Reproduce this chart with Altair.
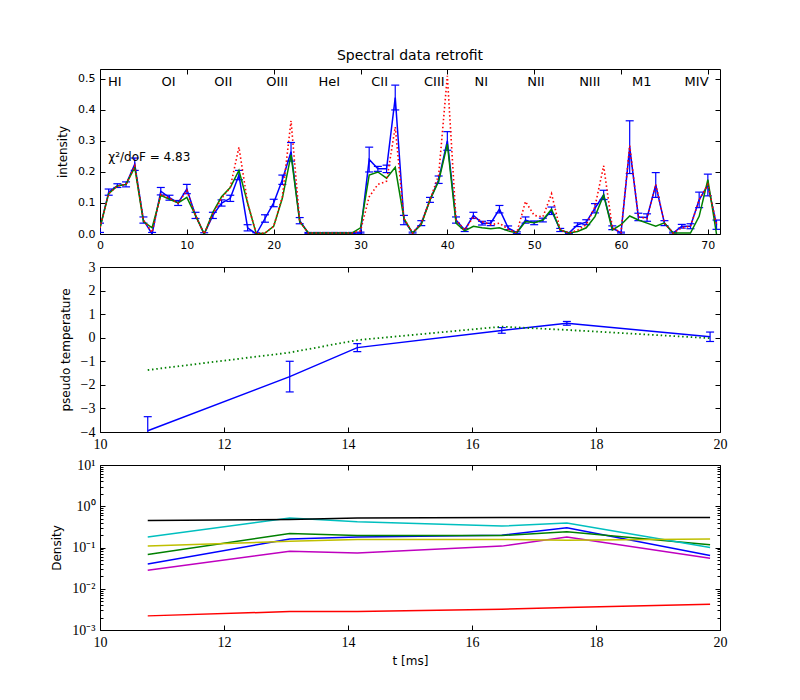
import altair as alt
import pandas as pd

# ---------------- top panel data ----------------
line_index = list(range(72))
measured = [0.02, 0.135, 0.156, 0.16, 0.225, 0.045, 0.0, 0.138, 0.117, 0.10,
            0.145, 0.06, 0.0, 0.06, 0.10, 0.115, 0.19, 0.02, 0.0, 0.05,
            0.10, 0.175, 0.265, 0.043, 0.003, 0.003, 0.003, 0.003, 0.003, 0.003,
            0.003, 0.24, 0.21, 0.21, 0.44, 0.045, 0.003, 0.035, 0.11, 0.175,
            0.30, 0.045, 0.013, 0.06, 0.035, 0.035, 0.08, 0.02, 0.004, 0.045,
            0.036, 0.045, 0.075, 0.013, 0.003, 0.03, 0.038, 0.083, 0.126, 0.02,
            0.003, 0.28, 0.055, 0.053, 0.158, 0.035, 0.003, 0.025, 0.025, 0.11,
            0.158, 0.03]
measured_err = [0.015, 0.01, 0.006, 0.008, 0.02, 0.01, 0.005, 0.012, 0.008, 0.008,
                0.015, 0.01, 0.004, 0.01, 0.01, 0.01, 0.015, 0.01, 0.004, 0.012,
                0.012, 0.015, 0.03, 0.01, 0.002, 0.002, 0.002, 0.002, 0.002, 0.002,
                0.003, 0.04, 0.008, 0.012, 0.04, 0.015, 0.003, 0.008, 0.008, 0.012,
                0.03, 0.01, 0.005, 0.01, 0.006, 0.008, 0.012, 0.006, 0.003, 0.01,
                0.006, 0.006, 0.012, 0.005, 0.002, 0.006, 0.008, 0.015, 0.015, 0.006,
                0.003, 0.085, 0.012, 0.012, 0.04, 0.008, 0.003, 0.006, 0.008, 0.025,
                0.035, 0.015]
retrofit = [0.02, 0.13, 0.155, 0.16, 0.215, 0.04, 0.02, 0.125, 0.112, 0.10,
            0.118, 0.06, 0.0, 0.07, 0.12, 0.15, 0.205, 0.10, 0.0, 0.003,
            0.025, 0.115, 0.255, 0.04, 0.003, 0.003, 0.003, 0.003, 0.003, 0.003,
            0.02, 0.19, 0.20, 0.18, 0.215, 0.05, 0.003, 0.03, 0.11, 0.17,
            0.29, 0.035, 0.01, 0.025, 0.02, 0.017, 0.02, 0.01, 0.004, 0.04,
            0.036, 0.045, 0.08, 0.013, 0.003, 0.008, 0.02, 0.056, 0.126, 0.013,
            0.03, 0.058, 0.045, 0.035, 0.025, 0.036, 0.003, 0.003, 0.003, 0.057,
            0.175, 0.0]
initial = [0.02, 0.13, 0.155, 0.16, 0.22, 0.045, 0.005, 0.128, 0.115, 0.10,
           0.14, 0.06, 0.0, 0.065, 0.115, 0.15, 0.28, 0.10, 0.0, 0.003,
           0.025, 0.12, 0.365, 0.04, 0.003, 0.003, 0.003, 0.003, 0.003, 0.003,
           0.01, 0.12, 0.16, 0.17, 0.345, 0.05, 0.003, 0.035, 0.11, 0.19,
           0.51, 0.045, 0.013, 0.055, 0.04, 0.03, 0.035, 0.015, 0.004, 0.105,
           0.06, 0.055, 0.13, 0.013, 0.003, 0.012, 0.03, 0.088, 0.22, 0.02,
           0.005, 0.285, 0.055, 0.05, 0.16, 0.035, 0.003, 0.02, 0.025, 0.11,
           0.16, 0.03]

ion_names = ["HI", "OI", "OII", "OIII", "HeI", "CII", "CIII", "NI", "NII", "NIII", "M1", "MIV"]
ion_pos = [1.7, 7.9, 14.2, 20.4, 26.4, 32.2, 38.5, 43.9, 50.2, 56.4, 62.4, 68.7]
ion_level = [0.49] * 12
chi_text = ["χ²/doF = 4.83"]
chi_x = [0.95]
chi_y = [0.248]

# ---------------- middle panel data ----------------
t_ms = [10.77, 13.06, 14.15, 16.48, 17.53, 19.84]
temp = [-3.95, -1.65, -0.42, 0.31, 0.61, 0.04]
temp_err = [0.6, 0.65, 0.17, 0.12, 0.08, 0.2]
temp_model = [-1.37, -0.63, -0.10, 0.47, 0.33, -0.02]

# ---------------- bottom panel data ----------------
dens_series = ["b", "g", "r", "c", "m", "y", "k"]
dens_colors = ["#0000ff", "#008000", "#ff0000", "#00bfbf", "#bf00bf", "#bfbf00", "#000000"]
dens_values = {
    "b": [0.040, 0.16, 0.18, 0.198, 0.30, 0.064],
    "g": [0.068, 0.217, 0.195, 0.195, 0.24, 0.116],
    "r": [0.0022, 0.0028, 0.0028, 0.0032, 0.0035, 0.0042],
    "c": [0.18, 0.52, 0.42, 0.33, 0.39, 0.10],
    "m": [0.028, 0.081, 0.074, 0.108, 0.18, 0.055],
    "y": [0.108, 0.142, 0.156, 0.156, 0.15, 0.16],
    "k": [0.45, 0.48, 0.52, 0.53, 0.53, 0.53],
}

# ---------------- tables ----------------
df_top = pd.DataFrame({"i": line_index, "meas": measured, "err": measured_err,
                       "fit": retrofit, "init": initial})
df_ion = pd.DataFrame({"x": ion_pos, "y": ion_level, "name": ion_names})
df_chi = pd.DataFrame({"x": chi_x, "y": chi_y, "txt": chi_text})
df_mid = pd.DataFrame({"t": t_ms, "T": temp, "err": temp_err, "model": temp_model})
rows = []
for s in dens_series:
    for k, t in enumerate(t_ms):
        rows.append({"t": t, "d": dens_values[s][k], "s": s, "o": dens_series.index(s)})
df_bot = pd.DataFrame(rows)

SANS = "DejaVu Sans"
SERIF = "Liberation Serif"
BLUE = "#0000ff"
TL = 5  # major tick length (inside)
TLm = 3  # minor tick length
W, H = 620, 165


def frame_axes(data, xf, yf, xscale, yscale, xticks, yticks, lab_font, lab_size,
               ytitle, xtitle=None, yformat=None, ylabel_expr=None, yminor=None, xformat="d"):
    base = alt.Chart(data).mark_point(opacity=0)
    xlab = dict(values=xticks, orient="bottom", ticks=False, domain=False, grid=False,
                labelFont=lab_font, labelFontSize=lab_size, labelColor="black",
                labelPadding=5, format=xformat, labelFlush=False, labelOverlap=False)
    if xtitle is not None:
        xlab.update(title=xtitle, titleFont=SANS, titleFontSize=12, titleFontWeight="normal",
                    titleColor="black", titlePadding=6)
    else:
        xlab.update(title=None)
    ylab = dict(values=yticks, orient="left", ticks=False, domain=False, grid=False,
                labelFont=lab_font, labelFontSize=lab_size, labelColor="black",
                labelPadding=5, title=ytitle, titleFont=SANS, titleFontSize=12,
                titleFontWeight="normal", titleColor="black", titlePadding=8,
                labelFlush=False, labelOverlap=False)
    if yformat is not None:
        ylab.update(format=yformat)
    if ylabel_expr is not None:
        ylab.update(labelExpr=ylabel_expr)
    layers = [base.encode(x=alt.X(xf, type="quantitative", scale=xscale, axis=alt.Axis(**xlab)),
                          y=alt.Y(yf, type="quantitative", scale=yscale, axis=alt.Axis(**ylab)))]

    def tick_axis(vals, orient, size):
        return alt.Axis(values=vals, orient=orient, offset=-size, tickSize=size, tickColor="black",
                        tickWidth=1, labels=False, domain=False, grid=False, title=None)

    layers.append(base.encode(x=alt.X(xf, type="quantitative", scale=xscale, axis=tick_axis(xticks, "bottom", TL)),
                              y=alt.Y(yf, type="quantitative", scale=yscale, axis=tick_axis(yticks, "left", TL))))
    layers.append(base.encode(x=alt.X(xf, type="quantitative", scale=xscale, axis=tick_axis(xticks, "top", TL)),
                              y=alt.Y(yf, type="quantitative", scale=yscale, axis=tick_axis(yticks, "right", TL))))
    if yminor is not None:
        layers.append(base.encode(x=alt.X(xf, type="quantitative", scale=xscale, axis=None),
                                  y=alt.Y(yf, type="quantitative", scale=yscale, axis=tick_axis(yminor, "left", TLm))))
        layers.append(base.encode(x=alt.X(xf, type="quantitative", scale=xscale, axis=None),
                                  y=alt.Y(yf, type="quantitative", scale=yscale, axis=tick_axis(yminor, "right", TLm))))
    return layers


def error_bars(data, xf, yf, ef, xscale, yscale):
    base = alt.Chart(data).transform_calculate(
        lo=f"datum['{yf}'] - datum['{ef}']", hi=f"datum['{yf}'] + datum['{ef}']")
    rule = base.mark_rule(color=BLUE, strokeWidth=1.2, clip=True).encode(
        x=alt.X(xf, type="quantitative", scale=xscale, axis=None),
        y=alt.Y("lo:Q", scale=yscale, axis=None), y2="hi:Q")
    cap_lo = base.mark_tick(color=BLUE, orient="horizontal", size=8, thickness=1.2, opacity=1, clip=True).encode(
        x=alt.X(xf, type="quantitative", scale=xscale, axis=None),
        y=alt.Y("lo:Q", scale=yscale, axis=None))
    cap_hi = base.mark_tick(color=BLUE, orient="horizontal", size=8, thickness=1.2, opacity=1, clip=True).encode(
        x=alt.X(xf, type="quantitative", scale=xscale, axis=None),
        y=alt.Y("hi:Q", scale=yscale, axis=None))
    return [rule, cap_lo, cap_hi]


# ---------------- top panel ----------------
xs1 = alt.Scale(domain=[0, 71.4], nice=False, zero=False)
ys1 = alt.Scale(domain=[0, 0.532], nice=False, zero=False)
top_base = alt.Chart(df_top)
top_err = error_bars(df_top, "i", "meas", "err", xs1, ys1)
top_meas = top_base.mark_line(color=BLUE, strokeWidth=1.5, clip=True).encode(
    x=alt.X("i:Q", scale=xs1, axis=None), y=alt.Y("meas:Q", scale=ys1, axis=None))
top_fit = top_base.mark_line(color="#008000", strokeWidth=1.5, clip=True).encode(
    x=alt.X("i:Q", scale=xs1, axis=None), y=alt.Y("fit:Q", scale=ys1, axis=None))
top_init = top_base.mark_line(color="#ff0000", strokeWidth=1.6, strokeDash=[1.5, 2.5], clip=True).encode(
    x=alt.X("i:Q", scale=xs1, axis=None), y=alt.Y("init:Q", scale=ys1, axis=None))
ion_text = alt.Chart(df_ion).mark_text(font=SANS, fontSize=13, color="black", baseline="middle", align="center").encode(
    x=alt.X("x:Q", scale=xs1, axis=None), y=alt.Y("y:Q", scale=ys1, axis=None), text="name:N")
chi = alt.Chart(df_chi).mark_text(font=SANS, fontSize=12, color="black", baseline="middle", align="left").encode(
    x=alt.X("x:Q", scale=xs1, axis=None), y=alt.Y("y:Q", scale=ys1, axis=None), text="txt:N")

top_axes = frame_axes(df_top, "i", "meas", xs1, ys1, [0, 10, 20, 30, 40, 50, 60, 70],
                      [0.0, 0.1, 0.2, 0.3, 0.4, 0.5], SANS, 11, "intensity", yformat=".1f")
top = alt.layer(*top_axes, *top_err, top_meas, top_fit, top_init, ion_text, chi).resolve_axis(
    x="independent", y="independent").properties(
    width=W, height=H,
    title=alt.TitleParams("Spectral data retrofit", font=SANS, fontSize=14, fontWeight="normal",
                          color="black", anchor="middle", offset=6))

# ---------------- middle panel ----------------
xs2 = alt.Scale(domain=[10, 20], nice=False, zero=False)
ys2 = alt.Scale(domain=[-4, 3], nice=False, zero=False)
mid_base = alt.Chart(df_mid)
mid_err = error_bars(df_mid, "t", "T", "err", xs2, ys2)
mid_line = mid_base.mark_line(color=BLUE, strokeWidth=1.5, clip=True).encode(
    x=alt.X("t:Q", scale=xs2, axis=None), y=alt.Y("T:Q", scale=ys2, axis=None))
mid_model = mid_base.mark_line(color="#008000", strokeWidth=1.8, strokeDash=[1.5, 2.8], clip=True).encode(
    x=alt.X("t:Q", scale=xs2, axis=None), y=alt.Y("model:Q", scale=ys2, axis=None))
mid_axes = frame_axes(df_mid, "t", "T", xs2, ys2, [10, 12, 14, 16, 18, 20],
                      [-4, -3, -2, -1, 0, 1, 2, 3], SERIF, 14, "pseudo temperature", yformat="d")
mid = alt.layer(*mid_axes, *mid_err, mid_line, mid_model).resolve_axis(
    x="independent", y="independent").properties(width=W, height=H)

# ---------------- bottom panel ----------------
xs3 = alt.Scale(domain=[10, 20], nice=False, zero=False)
ys3 = alt.Scale(type="log", domain=[0.001, 10], nice=False)
bot_lines = alt.Chart(df_bot).mark_line(strokeWidth=1.5, clip=True).encode(
    x=alt.X("t:Q", scale=xs3, axis=None),
    y=alt.Y("d:Q", scale=ys3, axis=None),
    color=alt.Color("s:N", scale=alt.Scale(domain=dens_series, range=dens_colors), legend=None),
    order=alt.Order("o:Q"))
minor = []
for dec in [0.001, 0.01, 0.1, 1]:
    for m in range(2, 10):
        minor.append(round(dec * m, 6))
label_expr = ("'10' + (datum.value > 5 ? '¹' : datum.value > 0.5 ? '⁰' : datum.value > 0.05 ? '⁻¹' : "
              "datum.value > 0.005 ? '⁻²' : '⁻³')")
bot_axes = frame_axes(df_bot, "t", "d", xs3, ys3, [10, 12, 14, 16, 18, 20],
                      [0.001, 0.01, 0.1, 1, 10], SERIF, 14, "Density", xtitle="t [ms]",
                      ylabel_expr=label_expr, yminor=minor)
bot = alt.layer(*bot_axes, bot_lines).resolve_axis(
    x="independent", y="independent").properties(width=W, height=H)

chart = alt.vconcat(top, mid, bot, spacing=33, bounds="flush").properties(
    padding={"left": 42, "top": 40, "right": 10, "bottom": 10},
    background="white"
).configure_view(stroke="black", strokeWidth=1)

chart.save("out.html", embed_options={"renderer": "svg", "actions": False})
